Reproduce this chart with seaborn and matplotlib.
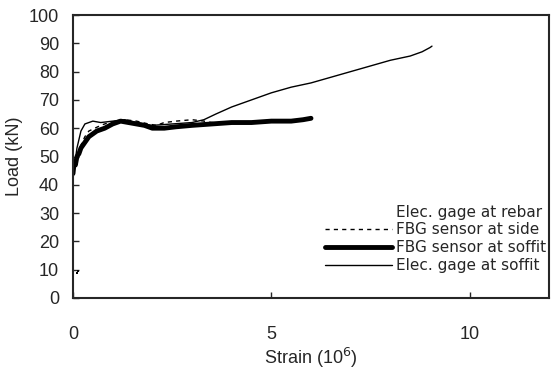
import matplotlib
matplotlib.use("Agg")
import matplotlib.pyplot as plt
import seaborn as sns
import pandas as pd
from matplotlib.lines import Line2D

# Strain (x10^-6) and load (kN) readings for each sensor
rebar_strain = [0.10, 0.12]
rebar_load = [9.0, 9.5]

side_strain = [0.0, 0.05, 0.1, 0.2, 0.3, 0.4, 0.55, 0.7, 0.9, 1.1, 1.3, 1.6, 1.9, 2.1, 2.3, 2.6,
               3.0, 3.3, 3.5, 4.0, 4.5, 5.0, 5.5, 5.9]
side_load = [45, 47, 50, 54, 57, 59, 60, 61, 62, 62.5, 63, 62.5, 61.5, 61, 62, 62.5,
             63, 62.5, 62, 62, 62, 62.5, 62.5, 63]

fbg_soffit_strain = [0.0, 0.03, 0.06, 0.1, 0.15, 0.2, 0.3, 0.4, 0.5, 0.6, 0.8, 1.0, 1.2, 1.4,
                     1.6, 1.8, 2.0, 2.3, 2.6, 3.0, 3.5, 4.0, 4.5, 5.0, 5.5, 5.8, 6.0]
fbg_soffit_load = [44, 48, 47, 50, 51, 53, 55, 57, 58, 59, 60, 61.5, 62.5, 62, 61.5, 61, 60,
                   60, 60.5, 61, 61.5, 62, 62, 62.5, 62.5, 63, 63.5]

elec_soffit_strain = [0.0, 0.05, 0.1, 0.15, 0.2, 0.3, 0.4, 0.5, 0.7, 1.0, 1.3, 1.6, 2.0, 2.5,
                      3.0, 3.3, 3.6, 4.0, 4.5, 5.0, 5.5, 6.0, 6.5, 7.0, 7.5, 8.0, 8.5, 8.8,
                      9.0, 9.05]
elec_soffit_load = [42, 48, 53, 56, 59, 61.5, 62, 62.5, 62, 62.5, 63, 62, 61, 61.5, 62, 63,
                    65, 67.5, 70, 72.5, 74.5, 76, 78, 80, 82, 84, 85.5, 87, 88.5, 89]

x_ticks = [0, 5, 10]
y_ticks = list(range(0, 101, 10))

sns.set_style("ticks")
plt.rcParams["font.family"] = ["Liberation Sans", "DejaVu Sans"]
plt.rcParams["xtick.direction"] = "in"
plt.rcParams["ytick.direction"] = "in"

fig = plt.figure(figsize=(5.53, 3.71), dpi=100)
ax = fig.add_axes([73 / 553, 1 - 298 / 371, (549 - 73) / 553, (298 - 15) / 371])


def draw(xs, ys, **kw):
    df = pd.DataFrame({"x": xs, "y": ys})
    sns.lineplot(data=df, x="x", y="y", ax=ax, sort=False, estimator=None,
                 color="black", **kw)


draw(side_strain, side_load, linestyle=(0, (3, 3)), linewidth=1.0)
draw(fbg_soffit_strain, fbg_soffit_load, linewidth=3.5)
draw(elec_soffit_strain, elec_soffit_load, linewidth=1.0)
sns.scatterplot(x=rebar_strain, y=rebar_load, ax=ax, color="black", s=3,
                marker="s", linewidth=0)

ax.set_xlim(0, 12)
ax.set_ylim(0, 100)
ax.set_xticks(x_ticks)
ax.set_yticks(y_ticks)
ax.tick_params(axis="x", labelsize=13, pad=20, length=4, width=1)
ax.tick_params(axis="y", labelsize=13, pad=10, length=4, width=1)
for s in ax.spines.values():
    s.set_linewidth(1.5)
    s.set_visible(True)

ax.set_xlabel("Strain (10$^{6}$)", fontsize=13, labelpad=2)
ax.set_ylabel("Load (kN)", fontsize=13, labelpad=4)

handles = [
    Line2D([], [], color="none"),
    Line2D([], [], color="black", linestyle=(0, (3, 3)), linewidth=1.0),
    Line2D([], [], color="black", linewidth=3.5),
    Line2D([], [], color="black", linewidth=1.0),
]
labels = ["Elec. gage at rebar", "FBG sensor at side", "FBG sensor at soffit",
          "Elec. gage at soffit"]
ax.legend(handles, labels, loc="upper right", bbox_to_anchor=(0.995, 0.33),
          frameon=False, prop={"family": "DejaVu Sans", "size": 11},
          handlelength=4.4, handletextpad=0.3, labelspacing=0.18,
          borderaxespad=0, borderpad=0)

fig.savefig("out.png", dpi=100)
